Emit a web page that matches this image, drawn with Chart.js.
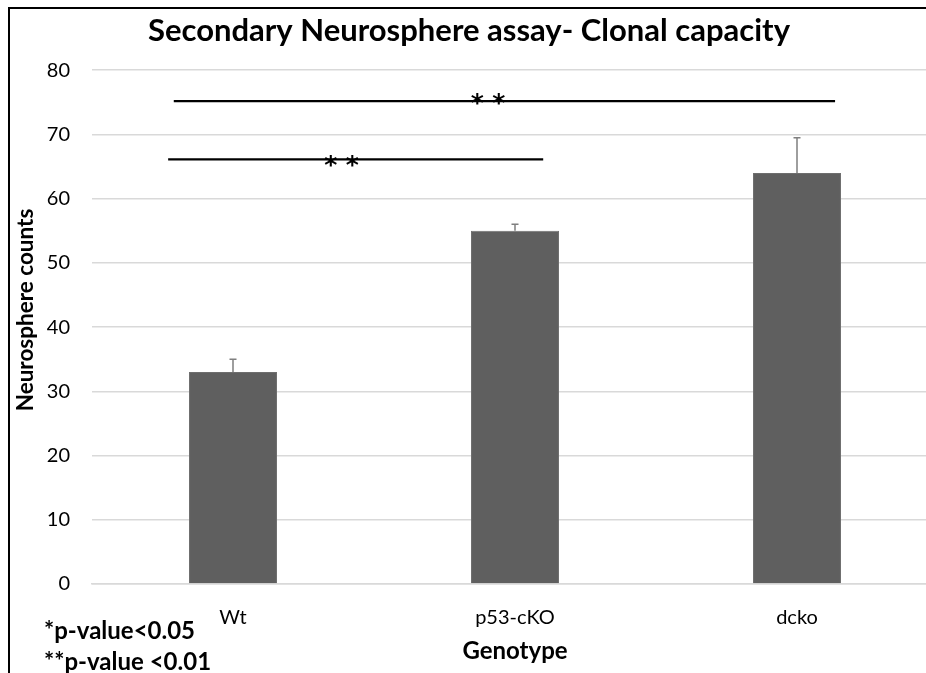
<!DOCTYPE html>
<html>
<head>
<meta charset="utf-8">
<script src="https://cdn.jsdelivr.net/npm/chart.js@4.4.1/dist/chart.umd.min.js"></script>
<style>
  html, body { margin: 0; padding: 0; background: #fff; overflow: hidden; }
  #wrap { position: absolute; left: 0; top: 0; width: 946px; height: 673px; }
</style>
</head>
<body>
<div id="wrap"><canvas id="c" width="946" height="673"></canvas></div>
<script>
// ---- data ----
const categories = ['Wt', 'p53-cKO', 'dcko'];
const counts = [33, 55, 64];
const errorTops = [35, 56, 69.5];
const yTicks = [0, 10, 20, 30, 40, 50, 60, 70, 80];
// significance brackets (x in category units, y in data units)
const sigStart = [-0.23, -0.21];
const sigEnd = [1.10, 2.135];
const sigLevel = [66.1, 75.2];
const sigLabelX = [0.385, 0.904];
const sigStars = [2, 2];
const notes = ['*p-value<0.05', '**p-value <0.01'];
const yTitle = 'Neurosphere counts';

const FONT = 'Lato, "Open Sans", sans-serif';

const overlay = {
  id: 'overlay',
  afterDatasetsDraw(chart) {
    const ctx = chart.ctx;
    const x = chart.scales.x, y = chart.scales.y;
    ctx.save();
    // error bars
    ctx.strokeStyle = '#7f7f7f';
    ctx.lineWidth = 1.5;
    counts.forEach((v, i) => {
      const px = x.getPixelForValue(i);
      const y0 = y.getPixelForValue(v);
      const y1 = y.getPixelForValue(errorTops[i]);
      ctx.beginPath();
      ctx.moveTo(px, y0); ctx.lineTo(px, y1);
      ctx.moveTo(px - 3.5, y1); ctx.lineTo(px + 3.5, y1);
      ctx.stroke();
    });
    // significance lines
    ctx.strokeStyle = '#000';
    ctx.lineWidth = 2.2;
    ctx.fillStyle = '#000';
    sigLevel.forEach((lv, i) => {
      const py = y.getPixelForValue(lv);
      ctx.beginPath();
      ctx.moveTo(x.getPixelForValue(sigStart[i]), py);
      ctx.lineTo(x.getPixelForValue(sigEnd[i]), py);
      ctx.stroke();
      ctx.font = 'bold 25px "DejaVu Sans", sans-serif';
      ctx.textAlign = 'center';
      ctx.textBaseline = 'alphabetic';
      const cx = x.getPixelForValue(sigLabelX[i]);
      const n = sigStars[i];
      for (let k = 0; k < n; k++) {
        const sx = cx + (k - (n - 1) / 2) * 21.5;
        ctx.fillText('*', sx, py + 12 + (i === 0 ? 2 : -2));
      }
    });
    // notes
    ctx.textAlign = 'left';
    ctx.textBaseline = 'middle';
    ctx.font = 'bold 24px ' + FONT;
    ctx.fillText(notes[0], 44, 631);
    ctx.fillText(notes[1], 44, 662);
    // y title
    ctx.save();
    ctx.translate(26, 310);
    ctx.rotate(-Math.PI / 2);
    ctx.textAlign = 'center';
    ctx.textBaseline = 'middle';
    ctx.font = 'bold 22.5px ' + FONT;
    ctx.fillText(yTitle, 0, 0);
    ctx.restore();
    // frame
    ctx.strokeStyle = '#000';
    ctx.lineWidth = 2;
    ctx.strokeRect(9, 8, 960, 700);
    ctx.restore();
  }
};

new Chart(document.getElementById('c'), {
  type: 'bar',
  data: {
    labels: categories,
    datasets: [{
      data: counts,
      backgroundColor: '#5f5f5f',
      borderColor: '#6e6e6e',
      borderWidth: 1,
      barPercentage: 0.312,
      categoryPercentage: 1.0
    }]
  },
  options: {
    responsive: false,
    animation: false,
    layout: { padding: { top: 8, left: 0, right: 8, bottom: 0 } },
    plugins: {
      legend: { display: false },
      tooltip: { enabled: false },
      title: {
        display: true,
        text: 'Secondary Neurosphere assay- Clonal capacity',
        color: '#000',
        font: { family: FONT, size: 31, weight: 'bold' },
        padding: { top: 4, bottom: 21 }
      }
    },
    scales: {
      x: {
        offset: true,
        grid: { display: false, drawTicks: false },
        border: { display: true, color: '#d9d9d9', width: 1.5 },
        ticks: { color: '#000', font: { family: FONT, size: 20 }, padding: 22 },
        title: {
          display: true, text: 'Genotype', color: '#000',
          font: { family: FONT, size: 24, weight: 'bold' },
          padding: { top: 0, bottom: 7 }
        },
        afterFit(s) { s.height = 89; }
      },
      y: {
        min: 0, max: 80,
        afterBuildTicks(s) { s.ticks = yTicks.map(v => ({ value: v })); },
        grid: { color: '#d9d9d9', lineWidth: 1.5, drawTicks: false },
        border: { display: false },
        ticks: { color: '#000', font: { family: FONT, size: 20 }, padding: 22 },
        afterFit(s) { s.width = 92; }
      }
    }
  },
  plugins: [overlay]
});
</script>
</body>
</html>
